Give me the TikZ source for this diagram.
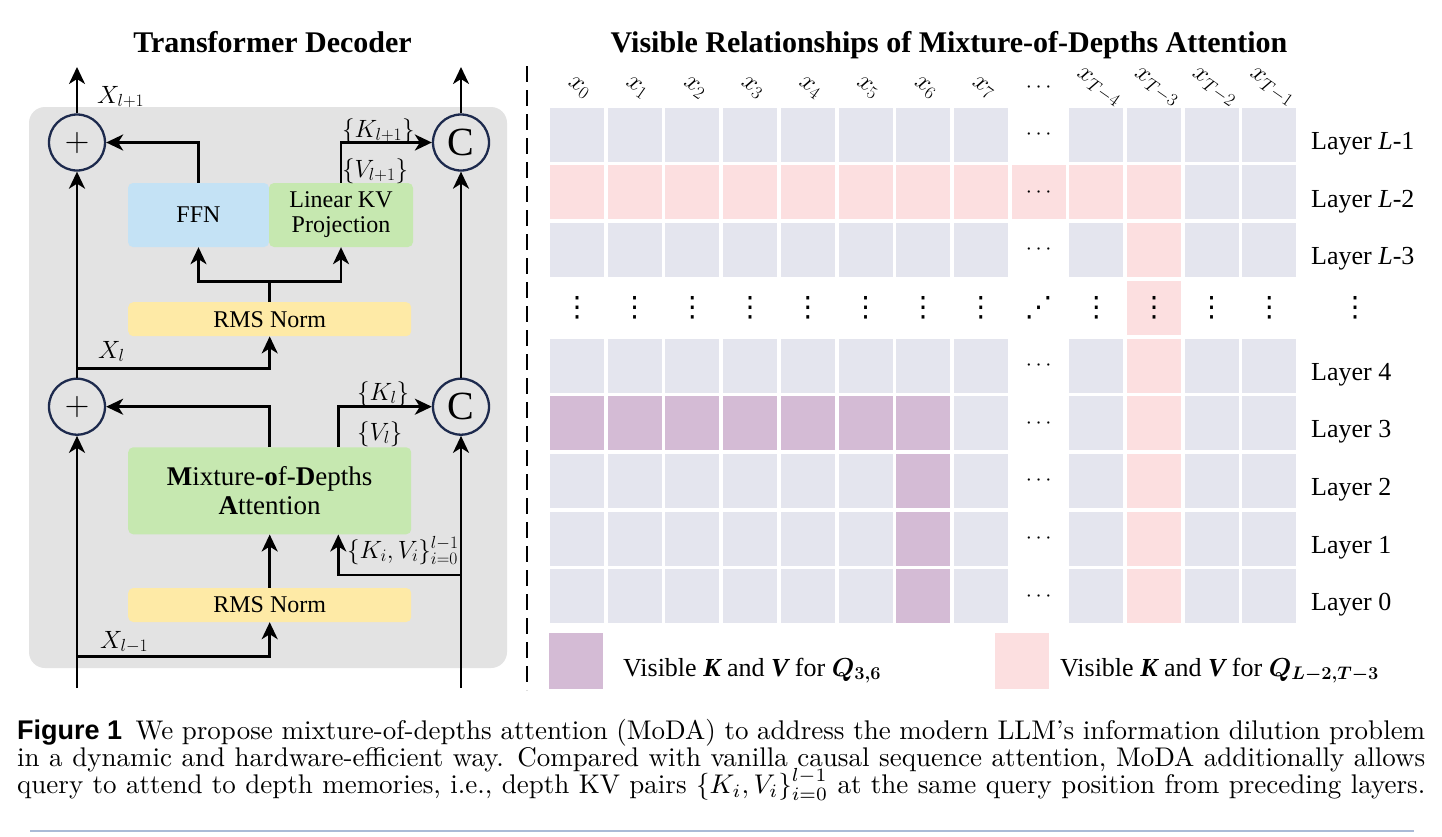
\documentclass[tikz,border=0pt]{standalone}
\usepackage{fix-cm}
\usepackage{fontspec}
\usepackage{bm}
\usetikzlibrary{arrows.meta,positioning}

\newfontfamily\timesfont{Liberation Serif}
\newfontfamily\capsans{Liberation Sans}
\newfontfamily\symfont{DejaVu Sans}
\newcommand\fsz[1]{\fontsize{#1}{#1}\selectfont}
% caption line: set at 10pt, blown up to the figure scale
\newcommand\capline[1]{\scalebox{2.7}{\fontsize{10}{12}\selectfont\makebox[521.5pt][s]{#1}}}

\definecolor{panelgray}{RGB}{227,227,227}
\definecolor{ffnblue}{RGB}{196,226,245}
\definecolor{kvgreen}{RGB}{198,232,176}
\definecolor{normyellow}{RGB}{254,234,166}
\definecolor{opnavy}{RGB}{29,42,77}
\definecolor{cellgray}{RGB}{228,229,238}
\definecolor{cellpink}{RGB}{252,223,224}
\definecolor{cellmauve}{RGB}{212,187,213}
\definecolor{rulegray}{RGB}{170,186,214}

\begin{document}
\begin{tikzpicture}[
  x=1pt, y=-1pt,
  box/.style={rounded corners=5pt, inner sep=0pt, align=center,
    font=\timesfont\fontsize{24}{25}\selectfont},
  ffnbox/.style ={box, fill=ffnblue, minimum width=141pt, minimum height=64pt},
  kvbox/.style  ={box, fill=kvgreen, minimum width=144pt, minimum height=64pt},
  normbox/.style={box, fill=normyellow, minimum width=283pt, minimum height=34pt},
  attnbox/.style={box, fill=kvgreen, minimum width=283pt, minimum height=87pt,
    font=\timesfont\fontsize{27}{29.5}\selectfont},
  opnode/.style ={circle, draw=opnavy, line width=2.3pt, minimum size=56pt, inner sep=0pt},
  flow/.style   ={-{Stealth[length=17pt,width=16pt,inset=5pt]}, line width=2.6pt},
  lbl/.style    ={font=\fsz{25}, inner sep=0pt, anchor=base west},
  ttl/.style    ={font=\timesfont\bfseries\fsz{30}, inner sep=0pt, anchor=base},
  collbl/.style ={font=\fsz{26}, inner sep=0pt, rotate=-35},
  dotlbl/.style ={font=\fsz{22}, inner sep=0pt},
  vdotlbl/.style={font=\symfont\fsz{28}, inner sep=0pt},
  layerlbl/.style={font=\timesfont\fsz{26}, inner sep=0pt, anchor=base west},
  leglbl/.style ={font=\timesfont\fsz{26}, inner sep=0pt, anchor=base west},
  caplbl/.style ={inner sep=0pt, anchor=base west},
  cellg/.style  ={fill=cellgray},
  cellp/.style  ={fill=cellpink},
  cellm/.style  ={fill=cellmauve}
]
\fill[white] (0,0) rectangle (1442,836);
\useasboundingbox (0,0) rectangle (1442,836);

% =================== TITLES ===================
\node[ttl] (ttl1) at (272.5,52) {Transformer Decoder};
\node[ttl] (ttl2) at (949,52) {Visible Relationships of Mixture-of-Depths Attention};

% =================== DECODER BLOCK ===================
\fill[panelgray, rounded corners=16pt] (29,107) rectangle (507,668);

\node[ffnbox]  (ffn)   at (198.5,215) {FFN};
\node[kvbox]   (kv)    at (341,215)   {Linear KV\\Projection};
\node[normbox] (norm2) at (269.7,319.2) {RMS Norm};
\node[attnbox] (attn)  at (269.7,490.8) {\textbf{M}ixture-\textbf{o}f-\textbf{D}epths\\\textbf{A}ttention};
\node[normbox] (norm1) at (269.7,605) {RMS Norm};

\node[opnode] (add1) at (77,142.5)  {\fsz{34}$+$};
\node[opnode] (add2) at (77,406.7)  {\fsz{34}$+$};
\node[opnode] (cat1) at (461,142.5) {\timesfont\fsz{40}C};
\node[opnode] (cat2) at (461,406.7) {\timesfont\fsz{40}C};

\coordinate (xin)   at (77,688);
\coordinate (xout)  at (77,67);
\coordinate (yin)   at (461,688);
\coordinate (yout)  at (461,67);
\coordinate (br1)   at (77,656.7);
\coordinate (br2)   at (77,368.3);
\coordinate (brkv)  at (461,575);
\coordinate (split) at (269.7,281.7);

% residual stream
\draw[flow] (xin) -- (add2);
\draw[flow] (add2) -- (add1);
\draw[flow] (add1) -- (xout);
\draw[flow] (br1) -| (norm1.south);
\draw[flow] (norm1.north) -- (attn.south);
\draw[flow] (attn.north) |- (add2);
\draw[flow] (br2) -| (norm2.south);
\draw[line width=2.6pt] (norm2.north) -- (split);
\draw[flow] (split) -| (ffn.south);
\draw[flow] (split) -| (kv.south);
\draw[flow] (ffn.north) |- (add1);

% depth KV stream
\draw[flow] (yin) -- (cat2);
\draw[flow] (cat2) -- (cat1);
\draw[flow] (cat1) -- (yout);
\draw[flow] (brkv) -| ([xshift=68.6pt]attn.south);
\draw[flow] ([xshift=68.6pt]attn.north) |- (cat2);
\draw[flow] (kv.north) |- (cat1);

% labels
\node[lbl] (lx2) at (97,103)  {$X_{l+1}$};
\node[lbl] (lk2) at (342,137) {$\{K_{l+1}\}$};
\node[lbl] (lv2) at (342,177) {$\{V_{l+1}\}$};
\node[lbl] (lx1) at (98,358)  {$X_l$};
\node[lbl] (lk1) at (357,400) {$\{K_l\}$};
\node[lbl] (lv1) at (357,440) {$\{V_l\}$};
\node[lbl] (lkv) at (347,558) {$\{K_i,V_i\}_{i=0}^{l-1}$};
\node[lbl] (lx0) at (100,648) {$X_{l-1}$};

% =================== SEPARATOR ===================
\draw[line width=2.5pt, dash pattern=on 16pt off 8pt] (527,66) -- (527,690);

% =================== VISIBILITY GRID ===================
\foreach \i in {0,1,2,4,5,6,7,8}
  \foreach \j in {0,...,7,9,10,11,12}
    \fill[cellg] ({550+57.7*\j},{107.7+57.7*\i}) rectangle ++(54,54);
\foreach \j in {0,...,10}
  \fill[cellp] ({550+57.7*\j},{107.7+57.7}) rectangle ++(54,54);
\foreach \i in {2,...,8}
  \fill[cellp] ({550+57.7*10},{107.7+57.7*\i}) rectangle ++(54,54);
\foreach \j in {0,...,6}
  \fill[cellm] ({550+57.7*\j},{107.7+57.7*5}) rectangle ++(54,54);
\foreach \i in {6,7,8}
  \fill[cellm] ({550+57.7*6},{107.7+57.7*\i}) rectangle ++(54,54);

% column heads
\foreach \j/\txt in {0/x_0,1/x_1,2/x_2,3/x_3,4/x_4,5/x_5,6/x_6,7/x_7,9/x_{T-4},10/x_{T-3},11/x_{T-2},12/x_{T-1}}
  \node[collbl] (col\j) at ({579+57.7*\j},88) {$\txt$};
\node[dotlbl] (col8) at (1038.6,88) {$\cdots$};

% dots
\foreach \i in {0,1,2,4,5,6,7,8}
  \node[dotlbl] (hd\i) at (1038.6,{134.7+57.7*\i}) {$\cdots$};
\foreach \j in {0,...,7,9,10,11,12}
  \node[vdotlbl] (vd\j) at ({577+57.7*\j},307.8) {⋮};
\node[vdotlbl] (vd8) at (1038.6,307.8) {⋰};
\node[vdotlbl] (vdl) at (1355,307.8) {⋮};

% layer names
\foreach \i/\txt in {0/Layer \textit{L}-1,1/Layer \textit{L}-2,2/Layer \textit{L}-3,4/Layer 4,5/Layer 3,6/Layer 2,7/Layer 1,8/Layer 0}
  \node[layerlbl] (lay\i) at (1311,{149.3+57.7*\i}) {\txt};

% =================== LEGEND ===================
\fill[cellm] (549,633) rectangle (603,689);
\node[leglbl] (leg1) at (623,676) {Visible {\bfseries\itshape K} and {\bfseries\itshape V} for $\bm{Q_{3,6}}$};
\fill[cellp] (995,633) rectangle (1049,689);
\node[leglbl] (leg2) at (1060,676) {Visible {\bfseries\itshape K} and {\bfseries\itshape V} for $\bm{Q_{L-2,T-3}}$};

% =================== CAPTION ===================
\node[caplbl] (cap1) at (17,739) {\capline{\mbox{\capsans\bfseries Figure 1}\hspace{5pt}We propose mixture-of-depths attention (MoDA) to address the modern LLM's information dilution problem}};
\node[caplbl] (cap2) at (17,766) {\capline{in a dynamic and hardware-efficient way. Compared with vanilla causal sequence attention, MoDA additionally allows}};
\node[caplbl] (cap3) at (17,793) {\capline{query to attend to depth memories, i.e., depth KV pairs $\{K_i,V_i\}_{i=0}^{l-1}$ at the same query position from preceding layers.}};
\draw[rulegray, line width=1.8pt] (30,831) -- (1414,831);

\end{tikzpicture}
\end{document}
